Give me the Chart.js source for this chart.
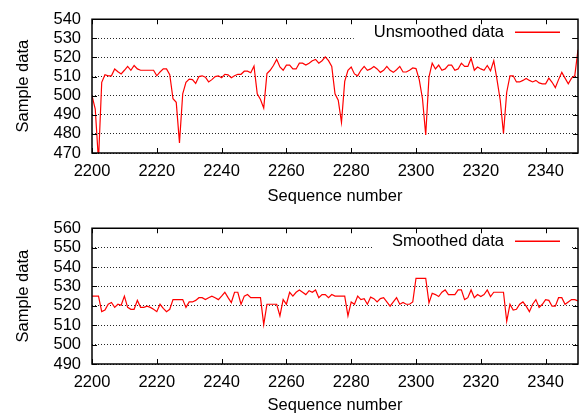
<!DOCTYPE html>
<html>
<head>
<meta charset="utf-8">
<script src="https://cdn.jsdelivr.net/npm/chart.js@4.4.0/dist/chart.umd.min.js"></script>
<style>
  html, body { margin: 0; padding: 0; background: #fff; }
  .wrap { position: absolute; left: 0; width: 579px; height: 209px; }
  canvas { display: block; }
</style>
</head>
<body>
<div class="wrap" style="top:0"><canvas id="c1" width="579" height="209"></canvas></div>
<div class="wrap" style="top:209px"><canvas id="c2" width="579" height="209"></canvas></div>
<script>
// ---------- data ----------
const sequence = [
  2200,2201,2202,2203,2204,2205,2206,2207,2208,2209,2210,2211,2212,2213,2214,2215,2216,2217,2218,2219,
  2220,2221,2222,2223,2224,2225,2226,2227,2228,2229,2230,2231,2232,2233,2234,2235,2236,2237,2238,2239,
  2240,2241,2242,2243,2244,2245,2246,2247,2248,2249,2250,2251,2252,2253,2254,2255,2256,2257,2258,2259,
  2260,2261,2262,2263,2264,2265,2266,2267,2268,2269,2270,2271,2272,2273,2274,2275,2276,2277,2278,2279,
  2280,2281,2282,2283,2284,2285,2286,2287,2288,2289,2290,2291,2292,2293,2294,2295,2296,2297,2298,2299,
  2300,2301,2302,2303,2304,2305,2306,2307,2308,2309,2310,2311,2312,2313,2314,2315,2316,2317,2318,2319,
  2320,2321,2322,2323,2324,2325,2326,2327,2328,2329,2330,2331,2332,2333,2334,2335,2336,2337,2338,2339,
  2340,2341,2342,2343,2344,2345,2346,2347,2348,2349,2350
];
const unsmoothed = [
  500,493,466,507,511,510.4,510.4,514,512.5,511.4,513.3,515.3,513.3,515.8,514,513.3,513.3,513.3,513.3,513.3,
  510.4,512.4,514,514,511,498.4,496.5,475.3,501,507,508.7,508.4,506.4,510,510.4,509.7,507.2,508.4,510,510.4,
  509.4,511.2,510.9,509.4,510.4,511.2,511.2,512.8,512.8,512,515.5,501,498,493.5,511.6,513.3,515.8,519,515,513.3,
  516,516,514,514,517,517,516,517,518.3,519,517,518.3,520.3,518.3,515.3,501,497.6,486,507.5,513.3,
  515,511.4,510.4,513.3,515.3,513.3,514,515.3,514,512.2,513.3,515.3,513.3,512.2,513.6,515.3,512.4,512.4,513.3,514.5,
  514.2,508.4,498.4,479.4,509.7,517,514,516,513.3,514,516,516,513.3,514,517,515.3,515.3,519.5,513.3,515,
  514,513.3,515.8,513,518.3,508.4,497.6,480.2,501.8,510.4,510.4,507.2,507.2,508,509,508,507.2,508,506.7,506.2,
  506.2,509.2,507,504.2,508.4,512.2,509.2,506.2,509.2,510.4,524
];
const smoothed = [
  525,525,525,517,517.8,520.8,521.7,519.2,520.8,520.3,525,519.2,518.2,518.2,522.8,519.2,519.2,519.8,519.2,518.2,
  517,520.8,518.7,517,518.2,523.2,523.2,523.2,523.2,519.2,522,522,522.8,524.2,524.2,523.2,524.2,525,524.2,523.2,
  525,527,524.2,521.7,527,527,520.8,525,525.8,524.2,524.2,524.2,524.2,510.3,520.8,520.8,520.8,520.8,514.8,523.2,
  520.8,527,525,527,528.2,527,525.8,527.8,527,528.2,524.2,525.8,525.8,524.2,525.8,525,525,525,525,514.8,
  522,520.8,525,523.2,523.7,520.8,524.5,523.7,522,523.7,524.2,522,519.8,522,524.2,520.8,521.7,520.8,520.8,522,
  534.2,534.2,534.2,534.2,521.5,526.5,525.8,524.8,527,528.2,525.8,525.8,525.8,528.2,528.2,523.2,524.2,528.2,524.2,525.8,
  524.8,525.8,528.2,524.8,527,527,527,527,512,520.8,517.8,518.2,520.8,522,519.8,517,520.8,523.2,519.2,520.8,
  523.2,522.8,519.8,519.8,524.2,524.2,520.8,522,523.2,523.2,522.5
];
const xTickLabels = [2200,2220,2240,2260,2280,2300,2320,2340];
const yTicksTop = [470,480,490,500,510,520,530,540];
const yTicksBottom = [490,500,510,520,530,540,550,560];
const seriesNames = ['Unsmoothed data','Smoothed data'];
const xTitle = 'Sequence number';
const yTitle = 'Sample data';

// ---------- style ----------
const FS = 16.5;
const FONT = 'Liberation Sans, Arial, Helvetica, sans-serif';

const framePlugin = {
  id: 'frame',
  beforeDatasetsDraw(chart) {
    const ctx = chart.ctx, a = chart.chartArea;
    const label = chart.data.datasets[0].label;
    ctx.save();
    ctx.font = FS + 'px ' + FONT;
    const tw = ctx.measureText(label).width;
    const textRight = a.right - 74;
    const yMid = a.top + 13;
    ctx.fillStyle = '#fff';
    const bx = textRight - tw - 20;
    ctx.fillRect(bx, yMid - 10, (a.right - 8) - bx, 20);
    ctx.restore();
  },
  afterDatasetsDraw(chart) {
    const ctx = chart.ctx, a = chart.chartArea;
    const ds = chart.data.datasets[0];
    ctx.save();
    // legend
    ctx.font = FS + 'px ' + FONT;
    ctx.fillStyle = '#000';
    ctx.textAlign = 'right';
    ctx.textBaseline = 'middle';
    const textRight = a.right - 74;
    const yMid = a.top + 13;
    ctx.fillText(ds.label, textRight, yMid);
    ctx.strokeStyle = '#ff0000';
    ctx.lineWidth = 1.4;
    ctx.beginPath();
    ctx.moveTo(a.right - 63, yMid);
    ctx.lineTo(a.right - 18, yMid);
    ctx.stroke();
    // inward tick marks
    ctx.strokeStyle = '#000';
    ctx.lineWidth = 1;
    const xs = chart.scales.x, ys = chart.scales.y;
    ctx.beginPath();
    xs.ticks.forEach(t => {
      const px = Math.round(xs.getPixelForValue(t.value)) + 0.5;
      ctx.moveTo(px, a.bottom); ctx.lineTo(px, a.bottom - 5);
      ctx.moveTo(px, a.top); ctx.lineTo(px, a.top + 5);
    });
    ys.ticks.forEach(t => {
      const py = Math.round(ys.getPixelForValue(t.value)) + 0.5;
      ctx.moveTo(a.left, py); ctx.lineTo(a.left + 5, py);
      ctx.moveTo(a.right, py); ctx.lineTo(a.right - 5, py);
    });
    ctx.stroke();
    // frame
    ctx.lineWidth = 1.5;
    ctx.strokeRect(a.left, a.top, a.right - a.left, a.bottom - a.top);
    ctx.restore();
  }
};

function makeChart(id, values, name, yTicks, padTop, xHeight) {
  return new Chart(document.getElementById(id), {
    type: 'line',
    data: {
      labels: sequence,
      datasets: [{
        label: name,
        data: values,
        borderColor: '#ff0000',
        borderWidth: 1.2,
        pointRadius: 0,
        tension: 0,
        fill: false
      }]
    },
    options: {
      responsive: false,
      animation: false,
      devicePixelRatio: 1,
      layout: { padding: { top: padTop, right: 1, left: 0, bottom: 0 } },
      plugins: { legend: { display: false }, tooltip: { enabled: false } },
      scales: {
        x: {
          type: 'linear',
          min: sequence[0],
          max: sequence[sequence.length - 1],
          afterBuildTicks: s => { s.ticks = xTickLabels.map(v => ({ value: v })); },
          afterFit: s => { s.height = xHeight; },
          grid: { display: false, drawTicks: false },
          border: { display: false },
          ticks: {
            autoSkip: false, maxRotation: 0, padding: 9,
            color: '#000', font: { family: FONT, size: FS },
            callback: v => String(v)
          },
          title: { display: true, text: xTitle, color: '#000',
                   font: { family: FONT, size: FS }, padding: { top: 0, bottom: 3 } }
        },
        y: {
          min: yTicks[0],
          max: yTicks[yTicks.length - 1],
          afterBuildTicks: s => { s.ticks = yTicks.map(v => ({ value: v })); },
          afterFit: s => { s.width = 92; },
          grid: { display: true, drawTicks: false, color: 'rgba(0,0,0,0.85)', lineWidth: 1 },
          border: { display: false, dash: [1, 2] },
          ticks: {
            autoSkip: false, padding: 11, color: '#000',
            font: { family: FONT, size: FS, lineHeight: 1 },
            callback: v => String(v)
          },
          title: { display: true, text: yTitle, color: '#000',
                   font: { family: FONT, size: FS }, padding: { top: 14, bottom: 0 } }
        }
      }
    },
    plugins: [framePlugin]
  });
}

makeChart('c1', unsmoothed, seriesNames[0], yTicksTop, 13, 56);
makeChart('c2', smoothed, seriesNames[1], yTicksBottom, 15, 54);
</script>
</body>
</html>
